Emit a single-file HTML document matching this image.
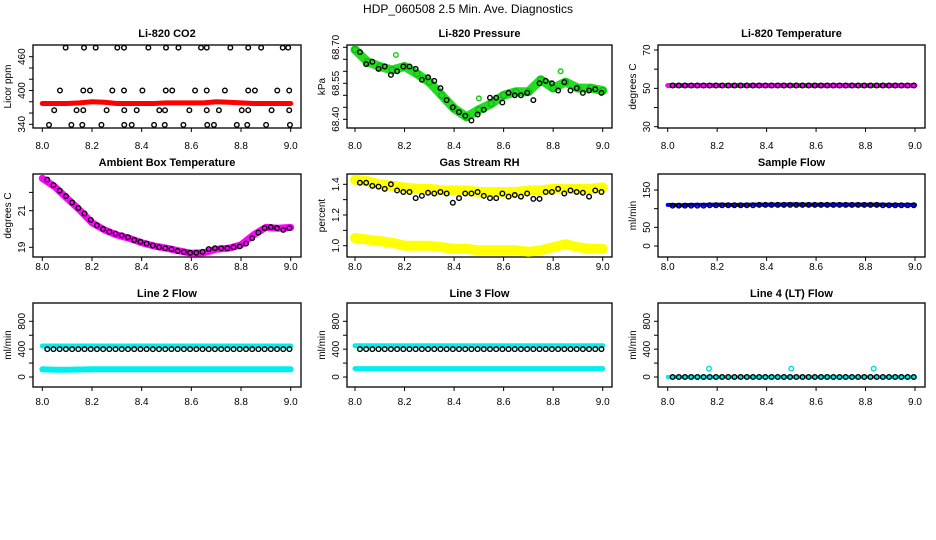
<!DOCTYPE html>
<html><head><meta charset="utf-8">
<style>
html,body{margin:0;padding:0;background:#fff;}
svg{display:block;font-family:"Liberation Sans",sans-serif;}
</style></head>
<body>
<svg id="chart" width="936" height="540" viewBox="0 0 936 540">
<text x="468" y="13" text-anchor="middle" font-size="12">HDP_060508  2.5 Min. Ave. Diagnostics</text>
</svg>
<script>
// ---- shared time arrays (hours) ----
const bandTime = [8.0,8.05,8.1,8.15,8.2,8.25,8.3,8.35,8.4,8.45,8.5,8.55,8.6,8.65,8.7,8.75,8.8,8.85,8.9,8.95,9.0];
const blackTime = [8.02,8.045,8.07,8.095,8.12,8.145,8.17,8.195,8.22,8.245,8.27,8.295,8.32,8.345,8.37,8.395,8.42,8.445,8.47,8.495,8.52,8.545,8.57,8.595,8.62,8.645,8.67,8.695,8.72,8.745,8.77,8.795,8.82,8.845,8.87,8.895,8.92,8.945,8.97,8.995];
const xTicks = [8.0,8.2,8.4,8.6,8.8,9.0];
const xTickLabels = ["8.0","8.2","8.4","8.6","8.8","9.0"];

// ---- CO2 ----
const co2Band = [377,377,377,378,380,379,377,377,377,377,378,378,378,378,380,379,378,377,377,377,377];
const co2Time = [8.094,8.168,8.215,8.302,8.329,8.427,8.498,8.548,8.639,8.662,8.757,8.829,8.881,8.968,8.990,
 8.071,8.165,8.192,8.282,8.329,8.403,8.497,8.523,8.615,8.662,8.735,8.829,8.856,8.946,8.994,
 8.048,8.138,8.165,8.259,8.330,8.380,8.471,8.494,8.592,8.662,8.711,8.803,8.829,8.923,8.994,
 8.027,8.117,8.161,8.238,8.330,8.360,8.450,8.493,8.568,8.664,8.691,8.783,8.825,8.901,8.997];
const co2Val = [476,476,476,476,476,476,476,476,476,476,476,476,476,476,476,
 400,400,400,400,400,400,400,400,400,400,400,400,400,400,400,
 365,365,365,365,365,365,365,365,365,365,365,365,365,365,365,
 339,339,339,339,339,339,339,339,339,339,339,339,339,339,339];
const co2Ticks = [340,360,380,400,420,440,460];
const co2Labels = ["340","","","400","","","460"];

// ---- Pressure ----
const presBand = [68.69,68.64,68.62,68.605,68.62,68.59,68.555,68.50,68.445,68.41,68.44,68.465,68.50,68.515,68.515,68.565,68.53,68.555,68.53,68.53,68.52];
const presBlack = [68.68,68.63,68.64,68.61,68.62,68.585,68.60,68.62,68.62,68.61,68.565,68.575,68.56,68.53,68.48,68.45,68.43,68.415,68.395,68.42,68.44,68.49,68.49,68.47,68.51,68.50,68.50,68.51,68.48,68.55,68.56,68.55,68.52,68.555,68.52,68.53,68.51,68.52,68.525,68.51];
const presOutTime = [8.165,8.50,8.83];
const presOutVal = [68.668,68.487,68.60];
const presTicks = [68.40,68.45,68.50,68.55,68.60,68.65,68.70];
const presLabels = ["68.40","","","68.55","","","68.70"];

// ---- Li-820 temperature ----
const ltBand = [51.5,51.5,51.5,51.5,51.5,51.5,51.5,51.5,51.5,51.5,51.5,51.5,51.5,51.5,51.5,51.5,51.5,51.5,51.5,51.5,51.5];
const ltBlack = [51.5,51.5,51.5,51.5,51.5,51.5,51.5,51.5,51.5,51.5,51.5,51.5,51.5,51.5,51.5,51.5,51.5,51.5,51.5,51.5,51.5,51.5,51.5,51.5,51.5,51.5,51.5,51.5,51.5,51.5,51.5,51.5,51.5,51.5,51.5,51.5,51.5,51.5,51.5,51.5];
const ltTicks = [30,40,50,60,70];
const ltLabels = ["30","","50","","70"];

// ---- Ambient box temperature ----
const ambBand = [22.77,22.31,21.68,21.04,20.34,19.95,19.67,19.49,19.25,19.07,18.95,18.81,18.67,18.70,18.89,18.95,19.13,19.67,20.09,20.04,20.09];
const ambBlack = [22.7,22.4,22.1,21.8,21.45,21.15,20.85,20.5,20.2,20.0,19.85,19.75,19.65,19.55,19.4,19.3,19.2,19.1,19.0,18.95,18.9,18.8,18.75,18.7,18.7,18.75,18.9,18.95,18.95,18.95,19.0,19.05,19.2,19.5,19.8,20.05,20.1,20.05,19.95,20.05];
const ambTicks = [19,20,21,22];
const ambLabels = ["19","","21",""];

// ---- Gas stream RH ----
const rhHigh = [1.43,1.42,1.40,1.39,1.38,1.37,1.37,1.36,1.36,1.36,1.35,1.35,1.35,1.35,1.36,1.36,1.37,1.37,1.37,1.37,1.38];
const rhLow = [1.05,1.04,1.03,1.02,1.00,1.00,1.00,0.99,0.98,0.98,0.97,0.97,0.97,0.97,0.96,0.97,0.99,1.01,0.99,0.98,0.98];
const rhBlack = [1.41,1.41,1.39,1.385,1.37,1.40,1.36,1.35,1.35,1.31,1.325,1.345,1.34,1.35,1.34,1.28,1.31,1.34,1.34,1.35,1.325,1.31,1.31,1.34,1.32,1.33,1.32,1.34,1.305,1.305,1.35,1.35,1.37,1.34,1.36,1.35,1.345,1.32,1.36,1.35];
const rhTicks = [1.0,1.1,1.2,1.3,1.4];
const rhLabels = ["1.0","","1.2","","1.4"];

// ---- Sample flow ----
const sfBand = [110,109,110,110,111,110,110,111,111,111,112,111,111,111,111,111,111,111,110,110,110];
const sfBlack = [108,108,108,108,108,108,109,109,109,109,109,109,109,109,110,110,110,110,110,110,110,110,110,110,110,110,110,110,110,110,110,110,110,110,109,109,109,109,109,109];
const sfTicks = [0,50,100,150];
const sfLabels = ["0","50","","150"];

// ---- Line flows ----
const l2High = [445,445,445,445,445,445,445,445,445,445,445,445,445,445,445,445,445,445,445,445,445];
const l2Low = [110,105,105,108,110,110,110,110,110,110,110,110,110,110,110,110,110,110,110,110,110];
const l2Black = [400,400,400,400,400,400,400,400,400,400,400,400,400,400,400,400,400,400,400,400,400,400,400,400,400,400,400,400,400,400,400,400,400,400,400,400,400,400,400,400];
const l3High = [450,450,450,450,450,450,450,450,450,450,450,450,450,450,450,450,450,450,450,450,450];
const l3Low = [120,120,120,120,120,120,120,120,120,120,120,120,120,120,120,120,120,120,120,120,120];
const l3Black = [400,400,400,400,400,400,400,400,400,400,400,400,400,400,400,400,400,400,400,400,400,400,400,400,400,400,400,400,400,400,400,400,400,400,400,400,400,400,400,400];
const l4Band = [0,0,0,0,0,0,0,0,0,0,0,0,0,0,0,0,0,0,0,0,0];
const l4Black = [0,0,0,0,0,0,0,0,0,0,0,0,0,0,0,0,0,0,0,0,0,0,0,0,0,0,0,0,0,0,0,0,0,0,0,0,0,0,0,0];
const l4OutTime = [8.167,8.5,8.833];
const l4OutVal = [120,120,120];
const flowTicks = [0,200,400,600,800];
const flowLabels = ["0","","400","","800"];

const NS = "http://www.w3.org/2000/svg";
const svg = document.getElementById("chart");
function mk(tag, attrs, parent){
  const e = document.createElementNS(NS, tag);
  for (const k in attrs) e.setAttribute(k, attrs[k]);
  (parent||svg).appendChild(e);
  return e;
}
const cols = [{l:33,r:301,x0:42.3,x1:290.7},{l:347,r:612,x0:355,x1:602.7},{l:658,r:925,x0:667.7,x1:915}];
const rows = [{t:45,b:128,ty:37,ly:149},{t:174,b:257,ty:166,ly:270},{t:303,b:387,ty:297,ly:405}];

function panel(name, title, ci, ri, ymap, yTicks, yLabels, ytitle){
  const c = cols[ci], r = rows[ri];
  const g = mk("g", {});
  
  
  const xs = t => c.x0 + (t - 8) * (c.x1 - c.x0);
  const ys = v => ymap.p0 + (v - ymap.v0) * (ymap.p1 - ymap.p0) / (ymap.v1 - ymap.v0);
  const box = mk("rect", {x:c.l, y:r.t, width:c.r-c.l, height:r.b-r.t, fill:"none", stroke:"#000", "stroke-width":1.3}, g);
  
  
  const tt = mk("text", {x:(c.l+c.r)/2, y:r.ty, "text-anchor":"middle", "font-size":"11", "font-weight":"bold"}, g);
  tt.textContent = title;
  
  
  const xa = mk("g", {}, g);
  
  
  mk("line", {x1:xs(xTicks[0]), x2:xs(xTicks[xTicks.length-1]), y1:r.b, y2:r.b, stroke:"#000"}, xa);
  xTicks.forEach((t,i)=>{
    mk("line", {x1:xs(t), x2:xs(t), y1:r.b, y2:r.b+4, stroke:"#000"}, xa);
    const lb = mk("text", {x:xs(t), y:r.ly, "text-anchor":"middle", "font-size":"10"}, xa);
    lb.textContent = xTickLabels[i];
  });
  const ya = mk("g", {}, g);
  
  
  yTicks.forEach((v,i)=>{
    mk("line", {x1:c.l-4, x2:c.l, y1:ys(v), y2:ys(v), stroke:"#000"}, ya);
    if (yLabels[i]) {
      const lx = c.l - 8, ly = ys(v);
      const lb = mk("text", {x:lx, y:ly, "text-anchor":"middle", "font-size":"10", transform:`rotate(-90 ${lx} ${ly})`}, ya);
      lb.textContent = yLabels[i];
    }
  });
  const ax = c.l - 22, ay = (r.t + r.b)/2;
  const yt = mk("text", {x:ax, y:ay, "text-anchor":"middle", "font-size":"10", transform:`rotate(-90 ${ax} ${ay})`}, g);
  yt.textContent = ytitle;
  
  
  return {g, xs, ys};
}
function band(p, times, vals, color, width, name){
  const pts = times.map((t,i)=>p.xs(t).toFixed(1)+","+p.ys(vals[i]).toFixed(1)).join(" ");
  const pl = mk("polyline", {points:pts, fill:"none", stroke:color, "stroke-width":width, "stroke-linejoin":"round", "stroke-linecap":"round"}, p.g);
  
  
}
function pts(p, times, vals, color, name, rad){
  const g = mk("g", {}, p.g);
  
  
  times.forEach((t,i)=>{
    mk("circle", {cx:p.xs(t), cy:p.ys(vals[i]), r:rad||2.3, fill:"none", stroke:color, "stroke-width":1.4}, g);
  });
}

let p = panel("co2", "Li-820 CO2", 0, 0, {v0:340,p0:124.3,v1:460,p1:56.7}, co2Ticks, co2Labels, "Licor ppm");
band(p, bandTime, co2Band, "#ff0000", 5, "co2-red-series");
pts(p, co2Time, co2Val, "#000", "co2-black-points");

p = panel("pressure", "Li-820 Pressure", 1, 0, {v0:68.40,p0:119.3,v1:68.70,p1:47.3}, presTicks, presLabels, "kPa");
band(p, bandTime, presBand, "#22dd22", 9, "pressure-green-band");
pts(p, bandTime, presBand, "#11bb11", "pressure-green-points", 3);
pts(p, presOutTime, presOutVal, "#11cc11", "pressure-green-outliers");
pts(p, blackTime, presBlack, "#000", "pressure-black-points");

p = panel("li820-temp", "Li-820 Temperature", 2, 0, {v0:30,p0:126.7,v1:70,p1:50}, ltTicks, ltLabels, "degrees C");
band(p, bandTime, ltBand, "#ff00ff", 5, "li820-temp-magenta-series");
pts(p, blackTime, ltBlack, "#000", "li820-temp-black-points");

p = panel("ambient-temp", "Ambient Box Temperature", 0, 1, {v0:19,p0:247.3,v1:21,p1:210.7}, ambTicks, ambLabels, "degrees C");
band(p, bandTime, ambBand, "#ff00ff", 7, "ambient-temp-magenta-series");
pts(p, blackTime, ambBlack, "#000", "ambient-temp-black-points");

p = panel("gas-rh", "Gas Stream RH", 1, 1, {v0:1.0,p0:245.7,v1:1.4,p1:184.3}, rhTicks, rhLabels, "percent");
band(p, bandTime, rhHigh, "#ffff00", 10, "gas-rh-upper-yellow-band");
band(p, bandTime, rhLow, "#ffff00", 10, "gas-rh-lower-yellow-band");
pts(p, blackTime, rhBlack, "#000", "gas-rh-black-points");

p = panel("sample-flow", "Sample Flow", 2, 1, {v0:0,p0:246,v1:150,p1:190}, sfTicks, sfLabels, "ml/min");
band(p, bandTime, sfBand, "#0000ff", 4, "sample-flow-blue-series");
pts(p, blackTime, sfBlack, "#000", "sample-flow-black-points");

p = panel("line2-flow", "Line 2 Flow", 0, 2, {v0:0,p0:377,v1:800,p1:321.3}, flowTicks, flowLabels, "ml/min");
band(p, bandTime, l2High, "#00eeee", 5, "line2-upper-cyan-series");
band(p, bandTime, l2Low, "#00eeee", 6, "line2-lower-cyan-series");
pts(p, blackTime, l2Black, "#000", "line2-black-points");

p = panel("line3-flow", "Line 3 Flow", 1, 2, {v0:0,p0:377,v1:800,p1:321.3}, flowTicks, flowLabels, "ml/min");
band(p, bandTime, l3High, "#00eeee", 5, "line3-upper-cyan-series");
band(p, bandTime, l3Low, "#00eeee", 5, "line3-lower-cyan-series");
pts(p, blackTime, l3Black, "#000", "line3-black-points");

p = panel("line4-flow", "Line 4 (LT) Flow", 2, 2, {v0:0,p0:377,v1:800,p1:321.3}, flowTicks, flowLabels, "ml/min");
band(p, bandTime, l4Band, "#00eeee", 4, "line4-cyan-series");
pts(p, blackTime, l4Black, "#000", "line4-black-points");
pts(p, l4OutTime, l4OutVal, "#00dddd", "line4-cyan-outliers");
</script>
</body></html>
